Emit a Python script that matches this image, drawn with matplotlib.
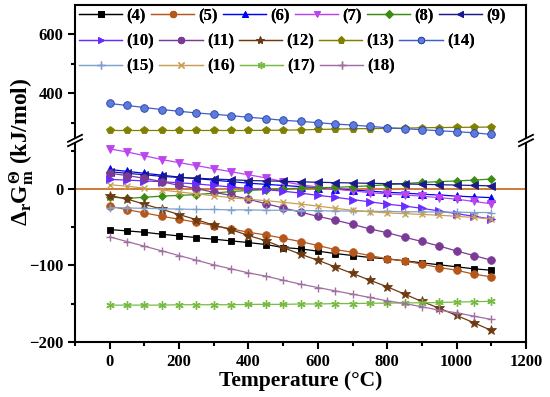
import numpy as np
import matplotlib
matplotlib.use("Agg")
import matplotlib.pyplot as plt
from matplotlib.lines import Line2D
from matplotlib.patches import Polygon
from matplotlib.ticker import MultipleLocator
from matplotlib.font_manager import FontProperties

plt.rcParams['font.family'] = ['Liberation Serif', 'DejaVu Serif']
plt.rcParams['font.weight'] = 'bold'
plt.rcParams['mathtext.fontset'] = 'custom'
plt.rcParams['mathtext.rm'] = 'Liberation Serif:bold'
plt.rcParams['mathtext.it'] = 'Liberation Serif:bold'
plt.rcParams['mathtext.bf'] = 'Liberation Serif:bold'

temps = [0, 50, 100, 150, 200, 250, 300, 350, 400, 450, 500, 550,
         600, 650, 700, 750, 800, 850, 900, 950, 1000, 1050, 1100]

labels = ['(4)', '(5)', '(6)', '(7)', '(8)', '(9)', '(10)', '(11)', '(12)',
          '(13)', '(14)', '(15)', '(16)', '(17)', '(18)']

s4 = [-52.9, -54.6, -56.4, -59.0, -61.2, -63.4, -65.5, -67.7, -69.9, -72.5, -76.4, -78.2,
      -81.2, -84.3, -86.9, -89.5, -91.3, -93.9, -96.5, -99.1, -101.7, -104.4, -106.2]
s5 = [-22.3, -26.7, -31.0, -35.4, -39.3, -43.3, -47.6, -52.0, -56.4, -59.9, -64.2, -68.6,
      -73.8, -79.1, -82.6, -87.0, -91.3, -94.0, -98.3, -102.7, -106.2, -111.4, -114.9]
s6 = [26, 23.5, 21, 18.5, 16, 14, 12, 10, 8, 6.5, 5, 3.5,
      2, 0.5, -1, -2.5, -4, -5, -6.5, -7.5, -9, -10, -11]
s7 = [53, 49, 44, 39, 35, 31, 27, 23, 19, 15, 10, 6,
      3, 0, -2, -4.5, -6, -7.5, -9, -11, -13, -16, -19]
s8 = [-10, -12, -10.5, -9, -8, -7, -5, -3, -1.5, -0.5, 0.5, 1.5,
      2, 2.5, 3.5, 4.5, 6, 7.5, 9, 10, 11, 12, 13.5]
s9 = [23, 21, 19, 17, 15.5, 14.5, 13.5, 12.5, 11.5, 11, 10.5, 9.8,
      9.2, 8.7, 8.3, 7.8, 7.4, 7, 6.5, 6, 5.5, 5, 4.5]
s10 = [13, 12, 11, 10, 8.5, 7, 5, 3, 1, -0.5, -2.5, -5,
       -8, -10.5, -13.5, -16.5, -19.5, -22, -25, -28.5, -32, -35.5, -39]
s11 = [21, 18, 14.5, 10, 5, 1, -4, -8, -13, -19, -24.5, -30,
       -35.5, -40.5, -46, -52, -57, -63, -68.5, -74.5, -81, -87, -93]
s12 = [-8.3, -12.7, -19.7, -26.2, -33.2, -39.8, -47.2, -52.9, -60.7, -67.5, -76.5, -85.2,
       -93.1, -101.8, -110.5, -119.3, -128.0, -137.6, -147.2, -156.0, -165.6, -175.2, -185.2]
s13 = [274, 274, 274, 274, 274, 274, 274, 274, 274, 274.5, 275, 276,
       277.5, 278.5, 280, 280.5, 281, 282, 283.3, 284, 284.5, 285, 285.6]
s14 = [365.7, 358.9, 352.0, 345.1, 339.3, 333.5, 329.0, 324.5, 318.8, 314.3, 308.5, 305.0,
       300.6, 295.8, 292.4, 287.9, 283.4, 280.0, 276.6, 273.2, 269.7, 266.3, 260.5]
s15 = [-24, -24.5, -25, -25.5, -26, -26.5, -26.5, -27, -27, -27.5, -27.5, -28,
       -28, -28.5, -28.5, -29, -29, -29.5, -29.5, -30, -30, -30.5, -30.5]
s16 = [6, 4, 1.5, -1, -3.5, -6, -8.5, -11, -13, -15, -17, -19.5,
       -22, -25, -27.5, -29.5, -31, -32, -33, -34, -35.5, -37, -39]
s17 = [-152, -152, -152, -152, -151.5, -151.5, -151.5, -151.5, -151, -151, -151, -150.5,
       -150.5, -150, -150, -149.5, -149.5, -149, -149, -148.5, -148, -147.5, -147]
s18 = [-62.5, -68.6, -74.7, -80.8, -87.0, -93.1, -99.2, -104.4, -109.7, -114.0, -119.3, -124.5,
       -128.9, -133.3, -137.6, -142.0, -146.4, -149.9, -154.2, -158.6, -162.1, -166.5, -170.8]

series = [s4, s5, s6, s7, s8, s9, s10, s11, s12, s13, s14, s15, s16, s17, s18]

colors = ['#000000', '#B5571B', '#0000FF', '#BB44EE', '#3C8C14', '#1A1A8C', '#6A2BFF',
          '#7B3A96', '#6E3A12', '#808000', '#3F5FCC', '#7FA1CC', '#C8A055', '#77BB44', '#A070A0']
markers = ['s', 'o', '^', 'v', 'D', '<', '>', 'o', '*', 'p', 'o', '+', 'x', (6, 2, 0), '+']
msizes = [5, 5.5, 5.5, 5.5, 4.5, 5.5, 5.5, 5.5, 7, 6, 5.5, 6, 5, 6, 6]

W, H = 550, 397
fig = plt.figure(figsize=(5.5, 3.97), dpi=100)

L, R = 75 / W, 526 / W
ybot, ybrk, ytop = 1 - 341.7 / H, 1 - 140.5 / H, 1 - 5 / H
ax_lo = fig.add_axes([L, ybot, R - L, ybrk - ybot])
ax_hi = fig.add_axes([L, ybrk, R - L, ytop - ybrk], sharex=ax_lo)

ax_lo.axhline(0, color='#C86414', lw=1.2, zorder=1)

handles = []
for ax in (ax_lo, ax_hi):
    for s, c, m, ms, lab in zip(series, colors, markers, msizes, labels):
        mfc = c
        mec = c
        if lab == '(14)':
            mfc = '#5A7BE0'
            mec = '#2A3F99'
        ln, = ax.plot(temps, s, color=c, lw=0.9, marker=m, ms=ms, mfc=mfc, mec=mec,
                      mew=1.0 if m in ('+', 'x', (6, 2, 0)) else 0.6, label=lab, zorder=3)
        if ax is ax_lo:
            handles.append(ln)

ax_lo.set_xlim(-100, 1200)
ax_lo.set_ylim(-200, 64)
ax_hi.set_ylim(240, 700)

for ax in (ax_lo, ax_hi):
    for sp in ax.spines.values():
        sp.set_linewidth(1.5)
    ax.tick_params(which='both', direction='out', width=1.5, labelsize=12, right=False, top=False)
    ax.tick_params(which='major', length=5)
    ax.tick_params(which='minor', length=3)
ax_lo.spines['top'].set_visible(False)
ax_hi.spines['bottom'].set_visible(False)
ax_hi.tick_params(axis='x', which='both', bottom=False, labelbottom=False)

ax_lo.xaxis.set_major_locator(MultipleLocator(200))
ax_lo.xaxis.set_minor_locator(MultipleLocator(100))
ax_lo.yaxis.set_major_locator(MultipleLocator(100))
ax_lo.yaxis.set_minor_locator(MultipleLocator(50))
ax_hi.set_yticks([400, 600])
ax_hi.set_yticks([300, 500], minor=True)

for ax in (ax_lo, ax_hi):
    for t in ax.get_xticklabels() + ax.get_yticklabels():
        t.set_fontweight('bold')

ax_lo.set_xlabel('Temperature (\u00b0C)', fontsize=15.5, fontweight='bold', labelpad=1)
fig.text(0.040, (1 - 152 / H), r'$\Delta_{r}G_{m}^{\Theta}$ (kJ/mol)', rotation=90,
         fontsize=17, fontweight='bold', ha='center', va='center')

# legend rows
legprop = FontProperties(family=['Liberation Serif'], weight='bold', size=12)
rows = [handles[0:6], handles[6:11], handles[11:15]]
row_y = [16, 41.5, 66.5]
for hs, py in zip(rows, row_y):
    leg = fig.legend(handles=hs, labels=[h.get_label() for h in hs], ncol=len(hs),
                     loc='center left', bbox_to_anchor=(79 / W, 1 - py / H),
                     frameon=False, prop=legprop, handlelength=2.6, handletextpad=0.25,
                     columnspacing=0.3, borderpad=0, borderaxespad=0, markerscale=0.85)
    fig.add_artist(leg)

# axis break marks
for px in (75, 526):
    for dy in (-2.2, 2.2):
        cy = 140.5 + dy
        x0, y0 = (px - 7) / W, 1 - (cy + 3.5) / H
        x1, y1 = (px + 7) / W, 1 - (cy - 3.5) / H
        fig.add_artist(Line2D([x0, x1], [y0, y1], color='black', lw=1.3, zorder=10))
    poly = Polygon([((px - 6) / W, 1 - (140.5 + 5) / H), ((px + 6) / W, 1 - (140.5 - 1.0) / H),
                    ((px + 6) / W, 1 - (140.5 - 5) / H), ((px - 6) / W, 1 - (140.5 + 1.0) / H)],
                   closed=True, facecolor='white', edgecolor='none', transform=fig.transFigure,
                   zorder=9)
    fig.add_artist(poly)

fig.savefig('out.png', dpi=100)
